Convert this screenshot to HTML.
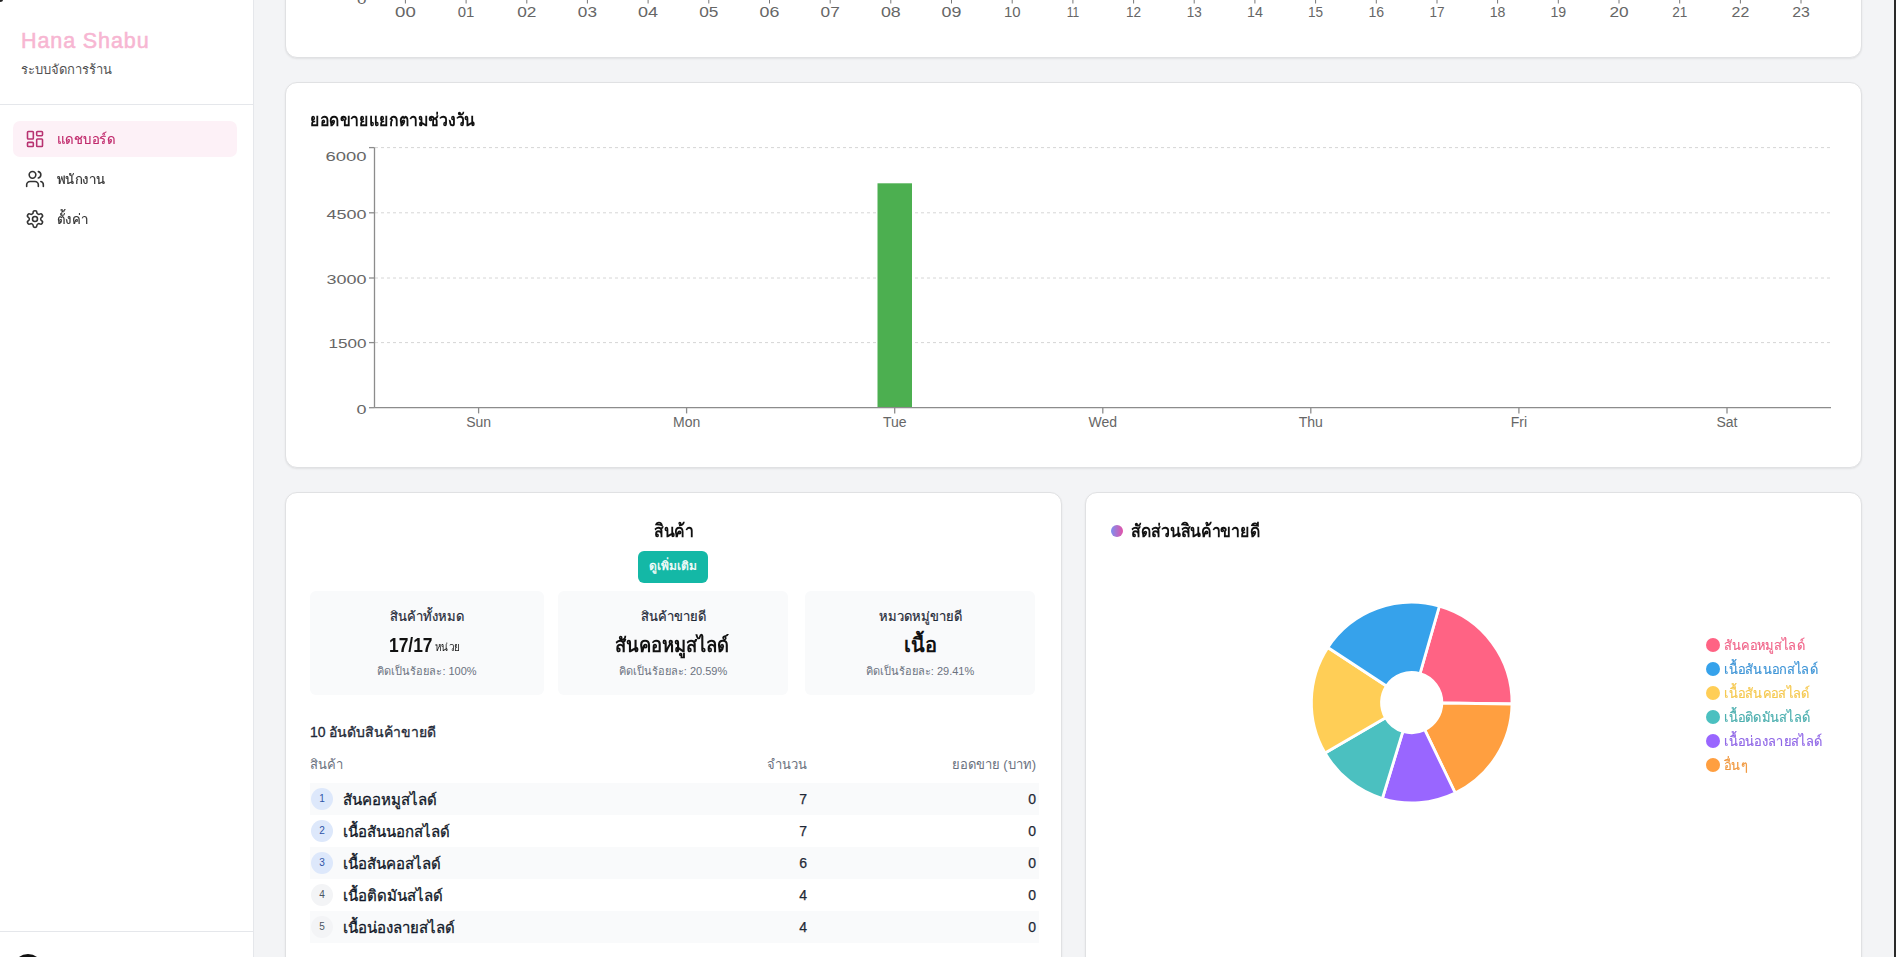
<!DOCTYPE html>
<html lang="th">
<head>
<meta charset="utf-8">
<title>Hana Shabu Dashboard</title>
<style>
*{box-sizing:border-box;margin:0;padding:0}
html,body{width:1896px;height:957px;overflow:hidden}
body{position:relative;background:#f3f4f6;font-family:"Liberation Sans",sans-serif;color:#111827}
.abs{position:absolute}
#sidebar{position:absolute;left:0;top:0;width:254px;height:957px;background:#fff;border-right:1px solid #e5e7eb}
.card{position:absolute;background:#fff;border:1px solid #e0e1e3;border-radius:12px;box-shadow:0 1px 2px rgba(0,0,0,.08)}
.tk{-webkit-text-stroke:.3px currentColor}
#scroll{position:absolute;left:1894px;top:0;width:2px;height:957px;background:#2a2a2a}
.nw{white-space:nowrap}
.sx{transform-origin:0 50%}
.ctr{text-align:center}
.stat{top:591px;height:104px;background:#f9fafb;border-radius:6px}
.st1{-webkit-text-stroke:.2px currentColor;top:608px;font-size:13px;color:#1f2937;line-height:17px}
.st2{top:633px;font-size:20px;font-weight:bold;color:#111;line-height:24px}
.st3{top:664px;font-size:11px;color:#6b7280;line-height:15px}
.th{top:756px;font-size:13px;color:#6b7280;line-height:17px}
.badge{left:311px;width:22px;height:22px;border-radius:50%;font-size:10px;line-height:22px;text-align:center}
.pname{-webkit-text-stroke:.3px currentColor;left:343px;font-size:15px;color:#111827;line-height:19px}
.num{-webkit-text-stroke:.25px currentColor;width:100px;text-align:right;font-size:14px;color:#1f2937;line-height:17px}
.nav{-webkit-text-stroke:.2px currentColor;left:57px;font-size:14px;line-height:18px;transform:scaleX(.94);transform-origin:0 50%}
.leg{-webkit-text-stroke:.2px currentColor;left:1724px;font-size:14px;line-height:18px;transform:scaleX(.92);transform-origin:0 50%}
</style>
</head>
<body>
<div id="sidebar">
<div class="abs nw" style="left:21px;top:28px;font-size:21.5px;font-weight:normal;-webkit-text-stroke:.55px #f7b6d2;color:#f7b6d2;line-height:26px;letter-spacing:.9px">Hana Shabu</div>
<div class="abs nw" style="left:21px;top:61px;font-size:13px;color:#525252;line-height:18px">ระบบจัดการร้าน</div>
<div class="abs" style="left:0;top:104px;width:253px;height:1px;background:#e5e7eb"></div>
<div class="abs" style="left:13px;top:121px;width:224px;height:36px;background:#fdf1f7;border-radius:7px"></div>
<svg class="abs" style="left:25px;top:129px" width="20" height="20" viewBox="0 0 24 24" fill="none" stroke="#b83270" stroke-width="1.9" stroke-linecap="round" stroke-linejoin="round"><rect x="3" y="3" width="7" height="9" rx="1"/><rect x="14" y="3" width="7" height="5" rx="1"/><rect x="14" y="12" width="7" height="9" rx="1"/><rect x="3" y="16" width="7" height="5" rx="1"/></svg>
<div class="abs nw nav" style="top:130px;color:#c02a6c">แดชบอร์ด</div>
<svg class="abs" style="left:25px;top:169px" width="20" height="20" viewBox="0 0 24 24" fill="none" stroke="#333" stroke-width="1.9" stroke-linecap="round" stroke-linejoin="round"><path d="M16 21v-2a4 4 0 0 0-4-4H6a4 4 0 0 0-4 4v2"/><circle cx="9" cy="7" r="4"/><path d="M22 21v-2a4 4 0 0 0-3-3.87"/><path d="M16 3.13a4 4 0 0 1 0 7.75"/></svg>
<div class="abs nw nav" style="top:170px;color:#333">พนักงาน</div>
<svg class="abs" style="left:24.8px;top:209px" width="20" height="20" viewBox="0 0 24 24" fill="none" stroke="#333" stroke-width="1.9" stroke-linecap="round" stroke-linejoin="round"><path d="M12.22 2h-.44a2 2 0 0 0-2 2v.18a2 2 0 0 1-1 1.73l-.43.25a2 2 0 0 1-2 0l-.15-.08a2 2 0 0 0-2.73.73l-.22.38a2 2 0 0 0 .73 2.730l.15.1a2 2 0 0 1 1 1.72v.51a2 2 0 0 1-1 1.74l-.15.09a2 2 0 0 0-.73 2.73l.22.38a2 2 0 0 0 2.73.73l.15-.08a2 2 0 0 1 2 0l.43.25a2 2 0 0 1 1 1.73V20a2 2 0 0 0 2 2h.44a2 2 0 0 0 2-2v-.18a2 2 0 0 1 1-1.73l.43-.25a2 2 0 0 1 2 0l.15.08a2 2 0 0 0 2.73-.73l.22-.39a2 2 0 0 0-.73-2.73l-.15-.08a2 2 0 0 1-1-1.74v-.5a2 2 0 0 1 1-1.74l.15-.09a2 2 0 0 0 .73-2.73l-.22-.38a2 2 0 0 0-2.73-.73l-.15.08a2 2 0 0 1-2 0l-.43-.25a2 2 0 0 1-1-1.73V4a2 2 0 0 0-2-2z"/><circle cx="12" cy="12" r="3"/></svg>
<div class="abs nw nav" style="top:210px;color:#333">ตั้งค่า</div>
<div class="abs" style="left:0;top:931px;width:253px;height:1px;background:#e5e7eb"></div>
<div class="abs" style="left:13px;top:954px;width:30px;height:30px;border-radius:50%;background:#111"></div>
</div>
<div class="card" style="left:285px;top:-201px;width:1577px;height:259px"></div>
<div class="card" style="left:285px;top:82px;width:1577px;height:386px"></div>
<div class="card" style="left:285px;top:492px;width:777px;height:600px"></div>
<div class="card" style="left:1085px;top:492px;width:777px;height:600px"></div>
<svg class="abs" style="left:0;top:0" width="1896" height="60" viewBox="0 0 1896 60"><g stroke="#777" stroke-width="1"><line x1="405.4" y1="-6" x2="405.4" y2="3.5"/><line x1="466.1" y1="-6" x2="466.1" y2="3.5"/><line x1="526.8" y1="-6" x2="526.8" y2="3.5"/><line x1="587.4" y1="-6" x2="587.4" y2="3.5"/><line x1="648.1" y1="-6" x2="648.1" y2="3.5"/><line x1="708.8" y1="-6" x2="708.8" y2="3.5"/><line x1="769.5" y1="-6" x2="769.5" y2="3.5"/><line x1="830.2" y1="-6" x2="830.2" y2="3.5"/><line x1="890.8" y1="-6" x2="890.8" y2="3.5"/><line x1="951.5" y1="-6" x2="951.5" y2="3.5"/><line x1="1012.2" y1="-6" x2="1012.2" y2="3.5"/><line x1="1072.9" y1="-6" x2="1072.9" y2="3.5"/><line x1="1133.6" y1="-6" x2="1133.6" y2="3.5"/><line x1="1194.2" y1="-6" x2="1194.2" y2="3.5"/><line x1="1254.9" y1="-6" x2="1254.9" y2="3.5"/><line x1="1315.6" y1="-6" x2="1315.6" y2="3.5"/><line x1="1376.3" y1="-6" x2="1376.3" y2="3.5"/><line x1="1437.0" y1="-6" x2="1437.0" y2="3.5"/><line x1="1497.6" y1="-6" x2="1497.6" y2="3.5"/><line x1="1558.3" y1="-6" x2="1558.3" y2="3.5"/><line x1="1619.0" y1="-6" x2="1619.0" y2="3.5"/><line x1="1679.7" y1="-6" x2="1679.7" y2="3.5"/><line x1="1740.4" y1="-6" x2="1740.4" y2="3.5"/><line x1="1801.0" y1="-6" x2="1801.0" y2="3.5"/></g><g fill="#666" font-size="14.3" text-anchor="middle" font-family="Liberation Sans, sans-serif"><text x="405.4" y="17" textLength="20.7" lengthAdjust="spacingAndGlyphs">00</text><text x="466.1" y="17" textLength="16.6" lengthAdjust="spacingAndGlyphs">01</text><text x="526.8" y="17" textLength="19.2" lengthAdjust="spacingAndGlyphs">02</text><text x="587.4" y="17" textLength="19.1" lengthAdjust="spacingAndGlyphs">03</text><text x="648.1" y="17" textLength="20.0" lengthAdjust="spacingAndGlyphs">04</text><text x="708.8" y="17" textLength="19.2" lengthAdjust="spacingAndGlyphs">05</text><text x="769.5" y="17" textLength="19.8" lengthAdjust="spacingAndGlyphs">06</text><text x="830.2" y="17" textLength="19.2" lengthAdjust="spacingAndGlyphs">07</text><text x="890.8" y="17" textLength="19.8" lengthAdjust="spacingAndGlyphs">08</text><text x="951.5" y="17" textLength="19.8" lengthAdjust="spacingAndGlyphs">09</text><text x="1012.2" y="17" textLength="16.6" lengthAdjust="spacingAndGlyphs">10</text><text x="1072.9" y="17" textLength="12.5" lengthAdjust="spacingAndGlyphs">11</text><text x="1133.6" y="17" textLength="15.1" lengthAdjust="spacingAndGlyphs">12</text><text x="1194.2" y="17" textLength="15.0" lengthAdjust="spacingAndGlyphs">13</text><text x="1254.9" y="17" textLength="15.9" lengthAdjust="spacingAndGlyphs">14</text><text x="1315.6" y="17" textLength="15.1" lengthAdjust="spacingAndGlyphs">15</text><text x="1376.3" y="17" textLength="15.7" lengthAdjust="spacingAndGlyphs">16</text><text x="1437.0" y="17" textLength="15.1" lengthAdjust="spacingAndGlyphs">17</text><text x="1497.6" y="17" textLength="15.7" lengthAdjust="spacingAndGlyphs">18</text><text x="1558.3" y="17" textLength="15.7" lengthAdjust="spacingAndGlyphs">19</text><text x="1619.0" y="17" textLength="19.2" lengthAdjust="spacingAndGlyphs">20</text><text x="1679.7" y="17" textLength="15.1" lengthAdjust="spacingAndGlyphs">21</text><text x="1740.4" y="17" textLength="17.7" lengthAdjust="spacingAndGlyphs">22</text><text x="1801.0" y="17" textLength="17.6" lengthAdjust="spacingAndGlyphs">23</text><text x="366.5" y="3.7" text-anchor="end" font-size="13.5" textLength="9.5" lengthAdjust="spacingAndGlyphs">0</text></g></svg>
<div class="abs nw sx" style="left:310px;top:109px;font-size:18px;font-weight:bold;color:#111;line-height:22px;transform:scaleX(.877)">ยอดขายแยกตามช่วงวัน</div>
<svg class="abs" style="left:0;top:0" width="1896" height="957" viewBox="0 0 1896 957"><g stroke="#d6d6d6" stroke-width="1" stroke-dasharray="3 3"><line x1="375" y1="147.6" x2="1831" y2="147.6"/><line x1="375" y1="212.8" x2="1831" y2="212.8"/><line x1="375" y1="278.0" x2="1831" y2="278.0"/><line x1="375" y1="342.6" x2="1831" y2="342.6"/></g><rect x="877.5" y="183.3" width="34.5" height="224.4" fill="#4caf50"/><g stroke="#8c8c8c" stroke-width="1.3"><line x1="374.5" y1="147.6" x2="374.5" y2="407.7"/><line x1="374.5" y1="407.7" x2="1831" y2="407.7"/><line x1="369" y1="147.6" x2="374.5" y2="147.6"/><line x1="369" y1="212.8" x2="374.5" y2="212.8"/><line x1="369" y1="278.0" x2="374.5" y2="278.0"/><line x1="369" y1="342.6" x2="374.5" y2="342.6"/><line x1="369" y1="407.7" x2="374.5" y2="407.7"/><line x1="478.6" y1="407.7" x2="478.6" y2="413.4"/><line x1="686.6" y1="407.7" x2="686.6" y2="413.4"/><line x1="894.7" y1="407.7" x2="894.7" y2="413.4"/><line x1="1102.8" y1="407.7" x2="1102.8" y2="413.4"/><line x1="1310.8" y1="407.7" x2="1310.8" y2="413.4"/><line x1="1518.9" y1="407.7" x2="1518.9" y2="413.4"/><line x1="1727.0" y1="407.7" x2="1727.0" y2="413.4"/></g><g fill="#666" font-size="13" text-anchor="end" font-family="Liberation Sans, sans-serif"><text x="366.5" y="160.6" textLength="41" lengthAdjust="spacingAndGlyphs">6000</text><text x="366.5" y="218.6" textLength="40" lengthAdjust="spacingAndGlyphs">4500</text><text x="366.5" y="283.6" textLength="40" lengthAdjust="spacingAndGlyphs">3000</text><text x="366.5" y="348.4" textLength="38" lengthAdjust="spacingAndGlyphs">1500</text><text x="366.5" y="413.9" textLength="10" lengthAdjust="spacingAndGlyphs">0</text></g><g fill="#666" font-size="14" text-anchor="middle" font-family="Liberation Sans, sans-serif"><text x="478.6" y="427.1">Sun</text><text x="686.6" y="427.1">Mon</text><text x="894.7" y="427.1">Tue</text><text x="1102.8" y="427.1">Wed</text><text x="1310.8" y="427.1">Thu</text><text x="1518.9" y="427.1">Fri</text><text x="1727.0" y="427.1">Sat</text></g></svg>
<div class="abs nw sx" style="left:654px;top:520px;font-size:18px;font-weight:bold;color:#111;line-height:22px;transform:scaleX(.88)">สินค้า</div>
<div class="abs" style="left:638px;top:551px;width:70px;height:32px;background:#14b8a6;border-radius:6px"></div>
<div class="abs nw ctr tk" style="left:638px;top:558px;width:70px;font-size:12px;color:#fff;line-height:17px">ดูเพิ่มเติม</div>
<div class="abs stat" style="left:310px;width:234px"></div>
<div class="abs stat" style="left:558px;width:230px"></div>
<div class="abs stat" style="left:805px;width:230px"></div>
<div class="abs nw ctr st1" style="left:310px;width:234px">สินค้าทั้งหมด</div>
<div class="abs nw st2 sx" style="left:389px;transform:scaleX(.87)">17/17</div>
<div class="abs nw" style="left:435px;top:640px;font-size:11px;line-height:15px;color:#111;transform:scaleX(.9);transform-origin:0 50%">หน่วย</div>
<div class="abs nw ctr st3" style="left:310px;width:234px">คิดเป็นร้อยละ: 100%</div>
<div class="abs nw ctr st1" style="left:558px;width:230px">สินค้าขายดี</div>
<div class="abs nw st2 sx" style="left:615px;transform:scaleX(.92)">สันคอหมูสไลด์</div>
<div class="abs nw ctr st3" style="left:558px;width:230px">คิดเป็นร้อยละ: 20.59%</div>
<div class="abs nw ctr st1" style="left:805px;width:230px">หมวดหมู่ขายดี</div>
<div class="abs nw ctr st2" style="left:805px;width:230px">เนื้อ</div>
<div class="abs nw ctr st3" style="left:805px;width:230px">คิดเป็นร้อยละ: 29.41%</div>
<div class="abs nw tk" style="left:310px;top:723px;font-size:14px;color:#1f2937;line-height:18px">10 อันดับสินค้าขายดี</div>
<div class="abs nw th" style="left:310px">สินค้า</div>
<div class="abs nw th" style="left:607px;width:200px;text-align:right">จำนวน</div>
<div class="abs nw th" style="left:836px;width:200px;text-align:right">ยอดขาย (บาท)</div>
<div class="abs" style="left:310px;top:783px;width:729px;height:32px;background:#f9fafb"></div>
<div class="abs badge" style="top:788px;background:#dde8fb;color:#2f55a8">1</div>
<div class="abs nw pname" style="top:790px">สันคอหมูสไลด์</div>
<div class="abs nw num" style="left:707px;top:791px">7</div>
<div class="abs nw num" style="left:936px;top:791px">0</div>
<div class="abs badge" style="top:820px;background:#dde8fb;color:#2f55a8">2</div>
<div class="abs nw pname" style="top:822px">เนื้อสันนอกสไลด์</div>
<div class="abs nw num" style="left:707px;top:823px">7</div>
<div class="abs nw num" style="left:936px;top:823px">0</div>
<div class="abs" style="left:310px;top:847px;width:729px;height:32px;background:#f9fafb"></div>
<div class="abs badge" style="top:852px;background:#dde8fb;color:#2f55a8">3</div>
<div class="abs nw pname" style="top:854px">เนื้อสันคอสไลด์</div>
<div class="abs nw num" style="left:707px;top:855px">6</div>
<div class="abs nw num" style="left:936px;top:855px">0</div>
<div class="abs badge" style="top:884px;background:#f3f4f6;color:#4b5563">4</div>
<div class="abs nw pname" style="top:886px">เนื้อติดมันสไลด์</div>
<div class="abs nw num" style="left:707px;top:887px">4</div>
<div class="abs nw num" style="left:936px;top:887px">0</div>
<div class="abs" style="left:310px;top:911px;width:729px;height:32px;background:#f9fafb"></div>
<div class="abs badge" style="top:916px;background:#f3f4f6;color:#4b5563">5</div>
<div class="abs nw pname" style="top:918px">เนื้อน่องลายสไลด์</div>
<div class="abs nw num" style="left:707px;top:919px">4</div>
<div class="abs nw num" style="left:936px;top:919px">0</div>
<div class="abs" style="left:1111px;top:525px;width:12px;height:12px;border-radius:50%;background:linear-gradient(90deg,#7c8ff0,#e352a8)"></div>
<div class="abs nw sx" style="left:1131px;top:520px;font-size:18px;font-weight:bold;color:#111;line-height:22px;transform:scaleX(.885)">สัดส่วนสินค้าขายดี</div>
<svg class="abs" style="left:0;top:0" width="1896" height="957" viewBox="0 0 1896 957"><g stroke="#fff" stroke-width="2.8" stroke-linejoin="miter"><path d="M1439.35 606.19A100.3 100.3 0 0 1 1511.99 704.00L1441.90 703.02A30.2 30.2 0 0 0 1420.02 673.57Z" fill="#ff6384"/><path d="M1511.99 704.00A100.3 100.3 0 0 1 1455.20 792.98L1424.80 729.81A30.2 30.2 0 0 0 1441.90 703.02Z" fill="#ff9f40"/><path d="M1455.20 792.98A100.3 100.3 0 0 1 1382.38 798.52L1402.87 731.48A30.2 30.2 0 0 0 1424.80 729.81Z" fill="#9966ff"/><path d="M1382.38 798.52A100.3 100.3 0 0 1 1325.01 753.05L1385.60 717.79A30.2 30.2 0 0 0 1402.87 731.48Z" fill="#4bc0c0"/><path d="M1325.01 753.05A100.3 100.3 0 0 1 1327.87 647.53L1386.46 686.02A30.2 30.2 0 0 0 1385.60 717.79Z" fill="#ffce56"/><path d="M1327.87 647.53A100.3 100.3 0 0 1 1439.35 606.19L1420.02 673.57A30.2 30.2 0 0 0 1386.46 686.02Z" fill="#36a2eb"/></g></svg>
<div class="abs" style="left:1706px;top:638px;width:14px;height:14px;border-radius:50%;background:#ff6384"></div>
<div class="abs nw leg" style="top:636px;color:#f0658a">สันคอหมูสไลด์</div>
<div class="abs" style="left:1706px;top:662px;width:14px;height:14px;border-radius:50%;background:#36a2eb"></div>
<div class="abs nw leg" style="top:660px;color:#3d94d6">เนื้อสันนอกสไลด์</div>
<div class="abs" style="left:1706px;top:686px;width:14px;height:14px;border-radius:50%;background:#ffce56"></div>
<div class="abs nw leg" style="top:684px;color:#f5c84f">เนื้อสันคอสไลด์</div>
<div class="abs" style="left:1706px;top:710px;width:14px;height:14px;border-radius:50%;background:#4bc0c0"></div>
<div class="abs nw leg" style="top:708px;color:#4aaeae">เนื้อติดมันสไลด์</div>
<div class="abs" style="left:1706px;top:734px;width:14px;height:14px;border-radius:50%;background:#9966ff"></div>
<div class="abs nw leg" style="top:732px;color:#8f66e6">เนื้อน่องลายสไลด์</div>
<div class="abs" style="left:1706px;top:758px;width:14px;height:14px;border-radius:50%;background:#ff9f40"></div>
<div class="abs nw leg" style="top:756px;color:#f0983f">อื่นๆ</div>
<div class="abs" style="left:-3px;top:-3px;width:6px;height:5px;border-radius:50%;background:#222;filter:blur(.6px)"></div>
<div id="scroll"></div>
</body>
</html>
